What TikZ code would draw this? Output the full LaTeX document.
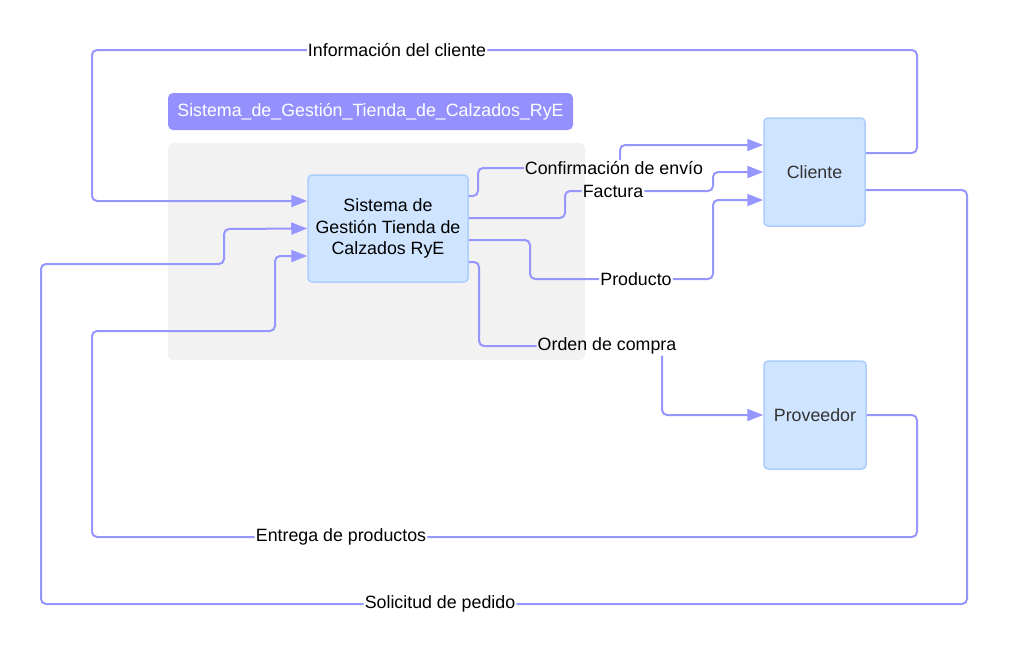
\documentclass[tikz,border=0pt]{standalone}
\usepackage{fontspec}
\setmainfont{Liberation Sans}
\usetikzlibrary{arrows.meta}

\definecolor{flowline}{RGB}{150,150,255}
\definecolor{titlefill}{RGB}{148,145,255}
\definecolor{boxfill}{RGB}{207,228,255}
\definecolor{boxline}{RGB}{172,206,255}
\definecolor{areafill}{RGB}{242,242,242}

\tikzset{
  procbox/.style={draw=boxline, fill=boxfill, line width=1.5pt, rounded corners=4pt, align=center},
  flowlabel/.style={inner sep=1pt, font=\fontsize{17.8}{21}\selectfont},
  flow/.style={draw=flowline, line width=2pt, rounded corners=5pt},
  flowarrow/.style={flow, -{Triangle[length=16pt,width=12pt]}}
}

\begin{document}
\begin{tikzpicture}[x=1pt,y=-1pt]
\useasboundingbox (0,0) rectangle (1009,656);
\fill[areafill, rounded corners=5pt] (168,143) rectangle (585,360);
\node[fill=titlefill, rounded corners=5pt, minimum width=405pt, minimum height=37pt, text=white, font=\fontsize{17.8}{21}\selectfont] (titulo) at (370.5,111.5) {Sistema\_de\_Gestión\_Tienda\_de\_Calzados\_RyE};

\node[procbox, minimum width=160pt, minimum height=107pt, font=\fontsize{17.8}{21.5}\selectfont] (sis) at (388,228.5) {Sistema de\\Gestión Tienda de\\Calzados RyE};
\node[procbox, minimum width=101pt, minimum height=108pt, text={rgb,255:red,51;green,51;blue,51}, font=\fontsize{17.8}{21}\selectfont] (cli) at (814.5,172) {Cliente};
\node[procbox, minimum width=102pt, minimum height=108pt, text={rgb,255:red,51;green,51;blue,51}, font=\fontsize{17.8}{21}\selectfont] (prov) at (815,415) {Proveedor};

% etiquetas de los flujos
\node[flowlabel] (info) at (397,50) {Información del cliente};
\node[flowlabel] (conf) at (614,168) {Confirmación de envío};
\node[flowlabel] (fact) at (613,191) {Factura};
\node[flowlabel] (prod) at (636,279) {Producto};
\node[flowlabel] (orden) at (607,346) {Orden de compra};
\node[flowlabel] (entr) at (341,537) {Entrega de productos};
\node[flowlabel] (soli) at (440,604) {Solicitud de pedido};

% Cliente -> Sistema
\path[flow] ([yshift=19pt]cli.east) -- (917,153) -- (917,50) -- (info.east);
\path[flowarrow] (info.west) -- (92,50) -- (92,201) -- ([yshift=27.5pt]sis.west);
\path[flow] ([yshift=-18pt]cli.east) -- (967,190) -- (967,604) -- (soli.east);
\path[flowarrow] (soli.west) -- (41,604) -- (41,264) -- (224,264) -- (224,229) -- (sis.west);

% Proveedor -> Sistema
\path[flow] (prov.east) -- (917,415) -- (917,537) -- (entr.east);
\path[flowarrow] (entr.west) -- (92,537) -- (92,331) -- (275,331) -- (275,256) -- ([yshift=-27.5pt]sis.west);

% Sistema -> Cliente
\path[flow] ([yshift=32.5pt]sis.east) -- (478,196) -- (478,168) -- (conf.west);
\path[flowarrow] ([xshift=6pt]conf.north) -- (620,145) -- ([yshift=27pt]cli.west);
\path[flow] ([yshift=10.5pt]sis.east) -- (565,218) -- (565,191) -- (fact.west);
\path[flowarrow] (fact.east) -- (713,191) -- (713,172) -- (cli.west);
\path[flow] ([yshift=-11.5pt]sis.east) -- (530,240) -- (530,279) -- (prod.west);
\path[flowarrow] (prod.east) -- (713,279) -- (713,200) -- ([yshift=-28pt]cli.west);

% Sistema -> Proveedor
\path[flow] ([yshift=-33.5pt]sis.east) -- (479,262) -- (479,346) -- (orden.west);
\path[flowarrow] ([xshift=55pt]orden.south) -- (662,415) -- (prov.west);
\end{tikzpicture}
\end{document}
